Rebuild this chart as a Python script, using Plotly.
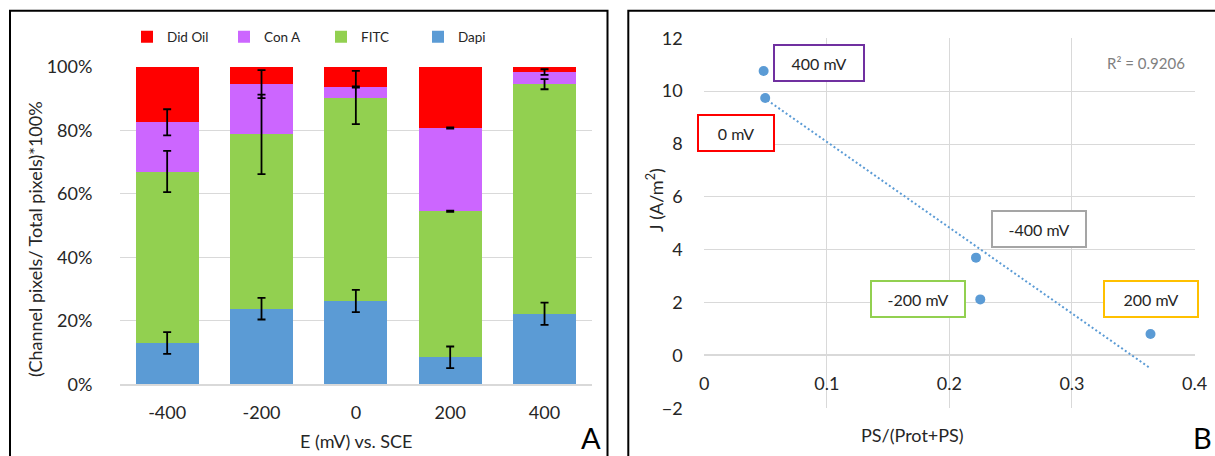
import numpy as np
import plotly.graph_objects as go

# ---------------- Data: panel A ----------------
potentials = ["-400", "-200", "0", "200", "400"]
dapi = [13.0, 23.8, 26.2, 8.5, 22.2]
fitc = [54.0, 54.9, 64.1, 46.0, 72.3]
con_a = [15.5, 15.8, 3.3, 26.2, 3.8]
did_oil = [17.5, 5.5, 6.4, 19.3, 1.7]
dapi_err = [3.4, 3.4, 3.5, 3.4, 3.5]
fitc_err = [6.5, 12.5, 8.4, 0.2, 1.6]
con_a_err = [4.1, 4.4, 0.2, 0.2, 0.9]

# ---------------- Data: panel B ----------------
ps_frac = [0.0484, 0.0497, 0.2217, 0.2252, 0.3641]
current_j = [10.76, 9.74, 3.70, 2.12, 0.81]
box_labels = ["400 mV", "0 mV", "-400 mV", "-200 mV", "200 mV"]
box_x = [0.0934, 0.0258, 0.2728, 0.1744, 0.3648]
box_y = [11.08, 8.43, 4.80, 2.12, 2.12]
r2_text = "R² = 0.9206"

# styles
box_colors = ["#7030A0", "#FF0000", "#A5A5A5", "#92D050", "#FFC000"]
box_widths = [86, 72, 90, 90, 90]
FONT = "Lato"
TXT = "#262626"
GRID = "#d9d9d9"
W, H = 1215, 456

def px(x):
    return x / W

def py(y):
    return (H - y) / H

fig = go.Figure()

series = [("Dapi", dapi, "#5B9BD5"), ("FITC", fitc, "#92D050"),
          ("Con A", con_a, "#CC66FF"), ("Did Oil", did_oil, "#FF0000")]
for name, vals, col in series:
    fig.add_trace(go.Bar(name=name, x=potentials, y=vals, marker_color=col,
                         marker_line_width=0, xaxis="x", yaxis="y"))

# error bars drawn on top of all segments, at each segment's stacked top
err_style = dict(type="data", color="black", thickness=1.8, width=4)
tops = np.cumsum([dapi, fitc, con_a], axis=0)
for top, err in zip(tops, [dapi_err, fitc_err, con_a_err]):
    fig.add_trace(go.Scatter(x=potentials, y=top, mode="markers",
                             marker=dict(size=1, opacity=0),
                             error_y=dict(array=err, **err_style),
                             showlegend=False, hoverinfo="skip", xaxis="x", yaxis="y"))

# Panel B scatter + linear trendline
slope, intercept = np.polyfit(ps_frac, current_j, 1)
tx = np.array([min(ps_frac), max(ps_frac)])
fig.add_trace(go.Scatter(x=tx, y=slope * tx + intercept, mode="lines",
                         line=dict(color="#5B9BD5", width=2, dash="2px,2.5px"),
                         showlegend=False, xaxis="x2", yaxis="y2"))
fig.add_trace(go.Scatter(x=ps_frac, y=current_j, mode="markers",
                         marker=dict(color="#5B9BD5", size=10),
                         showlegend=False, xaxis="x2", yaxis="y2"))

tickfont = dict(family=FONT, size=18, color=TXT)
yb0, yb1 = py(408.3), py(38.3)
zero_pos = yb0 + (yb1 - yb0) * (0 - (-2)) / 14

fig.update_layout(
    width=W, height=H,
    margin=dict(l=0, r=0, t=0, b=0, pad=0, autoexpand=False),
    paper_bgcolor="white", plot_bgcolor="white",
    barmode="stack", bargap=0.33,
    font=dict(family=FONT, color=TXT),
    legend=dict(orientation="h", x=px(127), xanchor="left", y=py(37), yanchor="middle",
                traceorder="reversed", font=dict(family=FONT, size=13.5, color=TXT),
                entrywidth=52, bgcolor="rgba(0,0,0,0)"),
    xaxis=dict(domain=[px(120), px(591.7)], anchor="y", showgrid=False, showline=True,
               linecolor=GRID, linewidth=1.5, tickfont=tickfont,
               ticks="outside", ticklen=11, tickcolor="rgba(0,0,0,0)"),
    yaxis=dict(domain=[py(384.3), py(66.7)], anchor="x", range=[0, 100], dtick=20,
               ticksuffix="%", showgrid=True, gridcolor=GRID, gridwidth=1.3,
               zeroline=False, showline=False, tickfont=tickfont,
               ticks="outside", ticklen=23, tickcolor="rgba(0,0,0,0)"),
    xaxis2=dict(domain=[px(704.3), px(1194.5)], anchor="free", position=zero_pos,
                range=[0, 0.4], dtick=0.1, showgrid=True, gridcolor=GRID, gridwidth=1.3,
                zeroline=False, showline=False, tickfont=tickfont,
                ticks="outside", ticklen=12, tickcolor="rgba(0,0,0,0)"),
    yaxis2=dict(domain=[yb0, yb1], anchor="x2", range=[-2, 12], dtick=2,
                showgrid=True, gridcolor=GRID, gridwidth=1.3,
                zeroline=True, zerolinecolor=GRID, zerolinewidth=1.5,
                showline=False, tickfont=tickfont,
                ticks="outside", ticklen=17, tickcolor="rgba(0,0,0,0)"),
)

def note(text, x, y, size=18, color=TXT, angle=0, xanchor="center"):
    return dict(text=text, x=px(x), y=py(y), xref="paper", yref="paper",
                xanchor=xanchor, yanchor="middle", textangle=angle, showarrow=False,
                font=dict(family=FONT, size=size, color=color))

annotations = [
    note("(Channel pixels/ Total pixels)*100%", 35, 239, angle=-90),
    note("E (mV) vs. SCE", 356, 441),
    note("A", 591, 437, size=29, color="black"),
    note("J (A/m<sup>2</sup>)", 655, 200, angle=-90),
    note("PS/(Prot+PS)", 912, 435),
    note("B", 1202, 437, size=29, color="black"),
    note(r2_text, 1187, 63, size=15, color="#7f7f7f", xanchor="right"),
]
for lab, bx, by, bc, bw in zip(box_labels, box_x, box_y, box_colors, box_widths):
    annotations.append(dict(text=lab, x=bx, y=by, xref="x2", yref="y2", showarrow=False,
                            xanchor="center", yanchor="middle",
                            width=bw, height=32, borderpad=1, borderwidth=2, bordercolor=bc,
                            bgcolor="white", font=dict(family=FONT, size=16, color=TXT)))
fig.update_layout(annotations=annotations)

fig.update_layout(shapes=[
    dict(type="rect", xref="paper", yref="paper", x0=px(10), x1=px(607.5), y0=-0.2, y1=py(10.7),
         line=dict(color="black", width=2), layer="above"),
    dict(type="rect", xref="paper", yref="paper", x0=px(628.3), x1=1.2, y0=-0.2, y1=py(10.7),
         line=dict(color="black", width=2), layer="above"),
])

fig.write_html("out.html",
               config={"displayModeBar": False},
               post_script="document.body.style.margin='0px';document.body.style.overflow='hidden';")
